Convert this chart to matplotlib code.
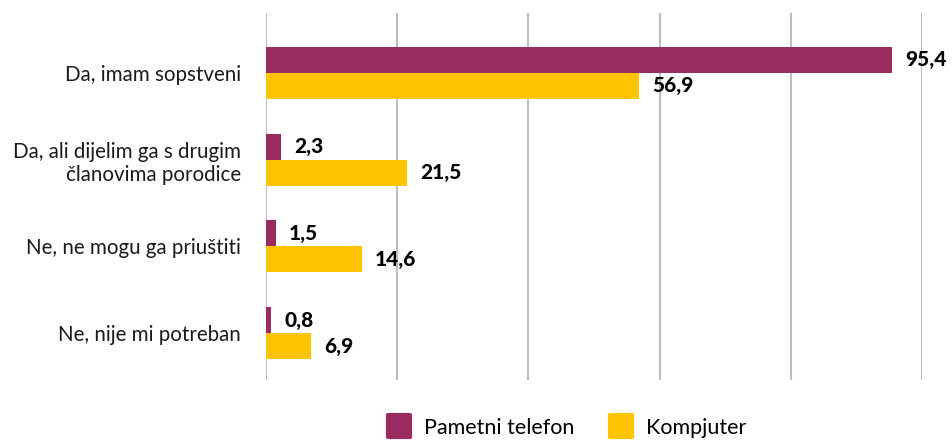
import matplotlib.pyplot as plt
from matplotlib.lines import Line2D
from matplotlib.markers import MarkerStyle
import numpy as np

plt.rcParams['font.family'] = ['Lato', 'DejaVu Sans']

categories = ["Da, imam sopstveni",
              "Da, ali dijelim ga s drugim\nčlanovima porodice",
              "Ne, ne mogu ga priuštiti",
              "Ne, nije mi potreban"]
telefon = [95.4, 2.3, 1.5, 0.8]
kompjuter = [56.9, 21.5, 14.6, 6.9]
series_names = ["Pametni telefon", "Kompjuter"]

purple = '#992B61'
yellow = '#FFC300'

fig = plt.figure(figsize=(9.53, 4.41), dpi=100)
ax = fig.add_axes([266/953, 1-380/441, (922-266)/953, (380-13)/441])

y = np.arange(len(categories))
h = 0.3
ax.barh(y - h/2, telefon, height=h, color=purple, zorder=3)
ax.barh(y + h/2, kompjuter, height=h, color=yellow, zorder=3)

for yi, v in zip(y, telefon):
    ax.text(v + 2, yi - h/2, f"{v:.1f}".replace('.', ','), va='center', ha='left',
            fontsize=15, fontweight='black', color='black', zorder=4)
for yi, v in zip(y, kompjuter):
    ax.text(v + 2, yi + h/2, f"{v:.1f}".replace('.', ','), va='center', ha='left',
            fontsize=15, fontweight='black', color='black', zorder=4)

ax.set_xlim(0, 100)
ax.set_ylim(3.54, -0.69)
ax.set_xticks([0, 20, 40, 60, 80, 100])
ax.xaxis.grid(True, color='#BDBDBD', linewidth=1.5)
ax.set_axisbelow(True)
ax.tick_params(axis='x', length=0, labelbottom=False)
ax.tick_params(axis='y', length=0, pad=18)
ax.set_yticks(y)
ax.set_yticklabels(categories, fontsize=14.8, color='#1a1a1a')
for s in ax.spines.values():
    s.set_visible(False)

sq = MarkerStyle('s', joinstyle='round')
handles = [Line2D([], [], linestyle='none', marker=sq, markersize=16,
                  markerfacecolor=c, markeredgecolor=c, markeredgewidth=3)
           for c in (purple, yellow)]
fig.legend(handles, series_names, loc='center', bbox_to_anchor=(0.592, 1-428/441),
           ncol=2, frameon=False, fontsize=15.5, handletextpad=0.35,
           columnspacing=1.4, handlelength=1.6)

fig.savefig('out.png', dpi=100)
